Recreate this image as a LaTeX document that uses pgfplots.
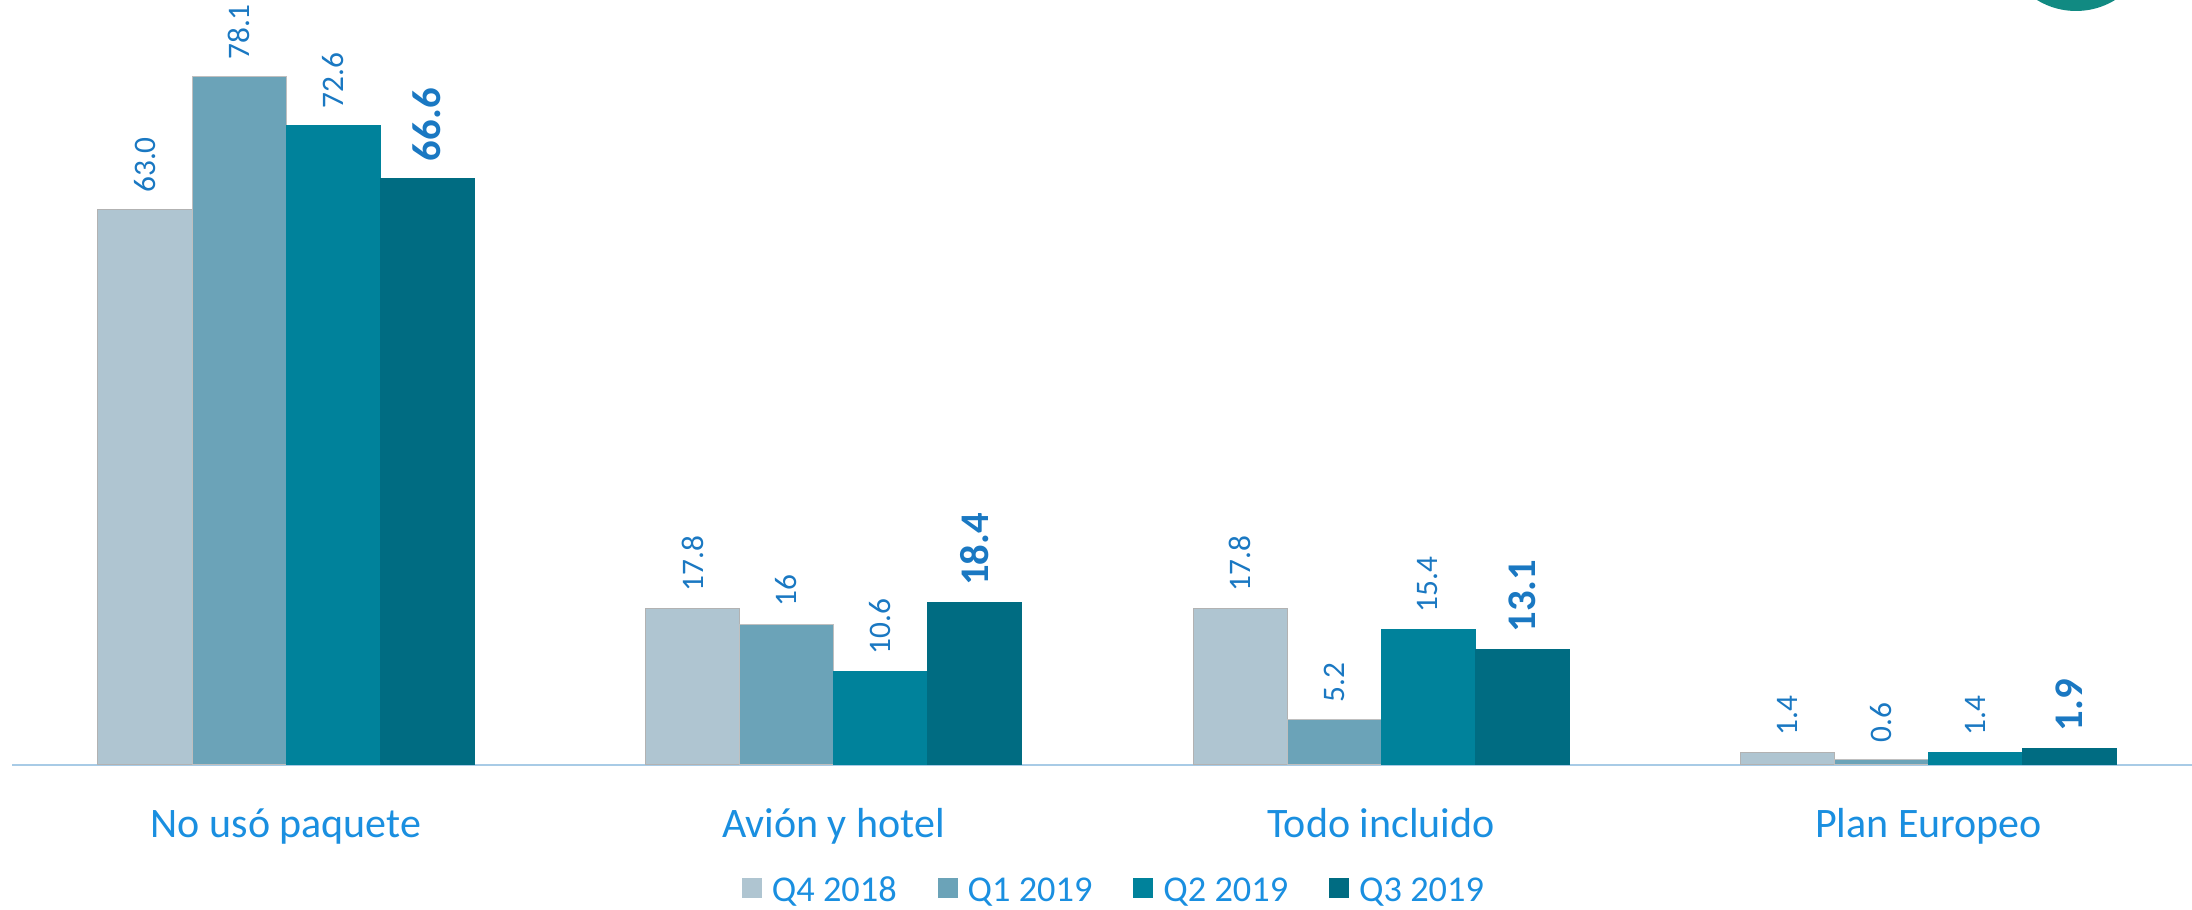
\documentclass[border=0pt]{standalone}
\usepackage{pgfplots}
\pgfplotsset{compat=1.18}
\usepackage{fontspec}
\setmainfont{Carlito}
\definecolor{cA}{HTML}{AFC5D1}
\definecolor{cB}{HTML}{6BA3B8}
\definecolor{cC}{HTML}{00829B}
\definecolor{cD}{HTML}{006C82}
\definecolor{lblblue}{HTML}{1A78C2}
\definecolor{catblue}{HTML}{1A8FE0}
\definecolor{axisblue}{HTML}{A8CBE6}
\definecolor{teal1}{HTML}{118A82}
\begin{document}
\begin{tikzpicture}
\useasboundingbox (0,0) rectangle (657.6pt,272.7pt);
\begin{scope}
\clip (0,0) rectangle (657.6pt,272.7pt);
\fill[teal1] (622.8pt,291.8pt) circle (22.4pt);
\end{scope}
\begin{axis}[
  at={(3.675pt,43.2pt)}, anchor=south west,
  scale only axis, width=657pt, height=229.5pt,
  xmin=-0.5, xmax=3.5, ymin=0, ymax=86.83,
  ybar=0pt, bar width=28.2pt,
  hide y axis, axis x line*=bottom,
  x axis line style={draw=axisblue, line width=0.8pt},
  xtick={0,1,2,3},
  xticklabels={No usó paquete, Avión y hotel, Todo incluido, Plan Europeo},
  major tick length=0pt,
  xticklabel style={anchor=base, yshift=-21.6pt, font=\fontsize{12.6}{15}\selectfont, text=catblue},
  clip=false,
  point meta=explicit symbolic,
  nodes near coords={\pgfplotspointmeta},
  every node near coord/.append style={rotate=90, anchor=west, inner xsep=5pt, inner ysep=0pt, font=\fontsize{9.4}{11}\selectfont, text=lblblue},
  legend style={draw=none, fill=none, at={(0.5026,-0.1660)}, anchor=center,
    legend columns=4, font=\fontsize{10.9}{13}\selectfont, text=catblue,
    nodes={inner sep=0pt},
    /tikz/every even column/.append style={column sep=12.3pt},
    /tikz/every odd column/.append style={column sep=3pt}},
  sq/.style={legend image code/.code={\fill[##1,draw=none] (0pt,-1.9pt) rectangle (6pt,4.1pt);}},
]
\addplot+[fill=cA, draw=black!30, line width=0.3pt, sq] coordinates {(0,63.0) [63.0] (1,17.8) [17.8] (2,17.8) [17.8] (3,1.4) [1.4]};
\addplot+[fill=cB, draw=black!25, line width=0.3pt, sq] coordinates {(0,78.1) [78.1] (1,16) [16] (2,5.2) [5.2] (3,0.6) [0.6]};
\addplot+[fill=cC, draw=cC, line width=0.3pt, sq] coordinates {(0,72.6) [72.6] (1,10.6) [10.6] (2,15.4) [15.4] (3,1.4) [1.4]};
\addplot+[fill=cD, draw=cD, line width=0.3pt, sq, every node near coord/.append style={font=\bfseries\fontsize{12.2}{14}\selectfont}] coordinates {(0,66.6) [66.6] (1,18.4) [18.4] (2,13.1) [13.1] (3,1.9) [1.9]};
\legend{Q4 2018, Q1 2019, Q2 2019, Q3 2019}
\end{axis}
\end{tikzpicture}
\end{document}
